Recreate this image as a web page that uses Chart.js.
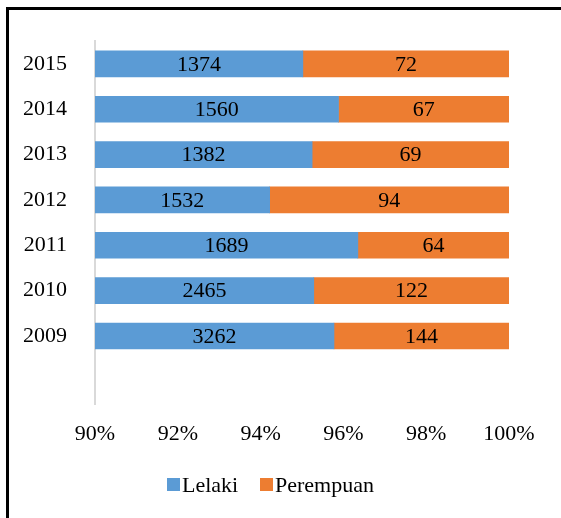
<!DOCTYPE html>
<html>
<head>
<meta charset="utf-8">
<script src="https://cdn.jsdelivr.net/npm/chart.js@4.4.0/dist/chart.umd.min.js"></script>
<style>
  html, body { margin: 0; padding: 0; background: #fff; overflow: hidden; }
  #frame { position: absolute; left: 6px; top: 7px; width: 600px; height: 560px; border: 3px solid #000; }
  #wrap { position: absolute; left: 0; top: 0; width: 561px; height: 518px; }
</style>
</head>
<body>
<div id="frame"></div>
<div id="wrap"><canvas id="myChart" width="561" height="518"></canvas></div>
<script>
// data (top to bottom, last row left empty like the original)
var years = ['2015', '2014', '2013', '2012', '2011', '2010', '2009', ''];
var lelaki = [1374, 1560, 1382, 1532, 1689, 2465, 3262, null];
var perempuan = [72, 67, 69, 94, 64, 122, 144, null];
var xTicks = [90, 92, 94, 96, 98, 100];

// share of each group in percent (100% stacked)
function share(a, b) {
  return a.map(function (v, i) {
    if (v == null) return null;
    return v / (v + b[i]) * 100;
  });
}
var lelakiPct = share(lelaki, perempuan);
var perempuanPct = share(perempuan, lelaki);

var FONT = 'Liberation Serif';
var BLUE = '#5B9BD5';
var ORANGE = '#ED7D31';

// raw counts written in the middle of the visible part of each bar
var barLabels = {
  id: 'barLabels',
  afterDatasetsDraw: function (chart) {
    var ctx = chart.ctx;
    var area = chart.chartArea;
    var raw = [lelaki, perempuan];
    ctx.save();
    ctx.font = '22px "' + FONT + '"';
    ctx.fillStyle = '#000';
    ctx.textAlign = 'center';
    ctx.textBaseline = 'middle';
    chart.data.datasets.forEach(function (ds, di) {
      chart.getDatasetMeta(di).data.forEach(function (bar, i) {
        if (raw[di][i] == null) return;
        var left = Math.max(area.left, Math.min(bar.base, bar.x));
        var right = Math.min(area.right, Math.max(bar.base, bar.x));
        ctx.fillText(String(raw[di][i]), (left + right) / 2, bar.y + 1);
      });
    });
    ctx.restore();
  }
};

// legend drawn by hand so the box sits close to its text
var ownLegend = {
  id: 'ownLegend',
  afterDraw: function (chart) {
    var ctx = chart.ctx;
    var items = [
      { text: 'Lelaki', color: BLUE, x: 167 },
      { text: 'Perempuan', color: ORANGE, x: 260 }
    ];
    ctx.save();
    ctx.font = '22px "' + FONT + '"';
    ctx.textBaseline = 'middle';
    ctx.textAlign = 'left';
    items.forEach(function (it) {
      ctx.fillStyle = it.color;
      ctx.fillRect(it.x, 478, 13, 13);
      ctx.fillStyle = '#000';
      ctx.fillText(it.text, it.x + 15, 486);
    });
    ctx.restore();
  }
};

var ctx = document.getElementById('myChart').getContext('2d');
var myChart = new Chart(ctx, {
  type: 'bar',
  data: {
    labels: years,
    datasets: [
      {
        label: 'Lelaki',
        data: lelakiPct,
        backgroundColor: BLUE,
        borderWidth: 0
      },
      {
        label: 'Perempuan',
        data: perempuanPct,
        backgroundColor: ORANGE,
        borderWidth: 0
      }
    ]
  },
  plugins: [barLabels, ownLegend],
  options: {
    indexAxis: 'y',
    responsive: false,
    animation: false,
    barThickness: 26,
    layout: { padding: { top: 32, right: 52, bottom: 0, left: 0 } },
    plugins: {
      legend: { display: false },
      tooltip: { enabled: false }
    },
    scales: {
      x: {
        stacked: true,
        min: 90,
        max: 100,
        afterBuildTicks: function (axis) {
          axis.ticks = xTicks.map(function (v) { return { value: v }; });
        },
        afterFit: function (axis) { axis.height = 114; },
        grid: { display: false, drawTicks: false },
        border: { display: false },
        ticks: {
          padding: 17,
          maxRotation: 0,
          autoSkip: false,
          color: '#000',
          font: { family: FONT, size: 22 },
          callback: function (v) { return v + '%'; }
        }
      },
      y: {
        stacked: true,
        afterFit: function (axis) { axis.width = 95; },
        grid: { display: false, drawTicks: false },
        border: { display: true, color: '#d9d9d9', width: 2 },
        ticks: {
          padding: 28,
          autoSkip: false,
          color: '#000',
          font: { family: FONT, size: 22 }
        }
      }
    }
  }
});
</script>
</body>
</html>
